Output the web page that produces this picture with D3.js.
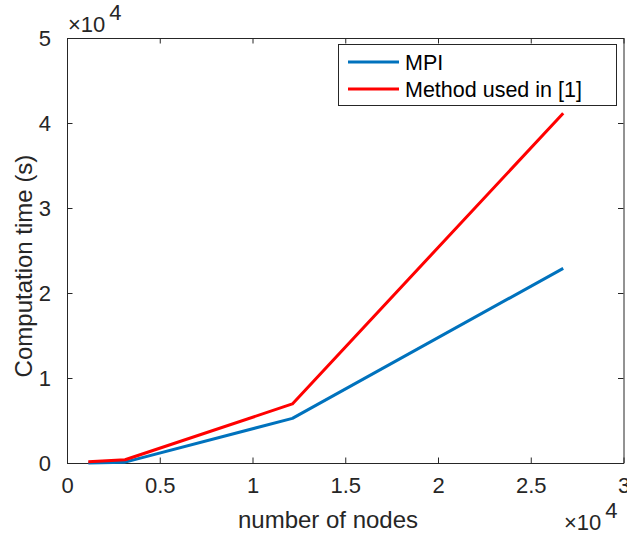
<!DOCTYPE html>
<html>
<head>
<meta charset="utf-8">
<script src="https://cdn.jsdelivr.net/npm/d3@7"></script>
<style>
  html, body { margin: 0; padding: 0; background: #fff; }
  svg { display: block; font-family: "Liberation Sans", Arial, Helvetica, sans-serif; }
</style>
</head>
<body>
<svg id="chart" width="627" height="534"></svg>
<script>
// ---- data ----
const nodes = [1150, 3130, 12150, 26750];
const mpiTime = [0, 100, 5250, 22900];
const method1Time = [150, 380, 6950, 41150];
const seriesNames = ["MPI", "Method used in [1]"];
const seriesColors = ["#0072BD", "#FF0000"];
const xTicks = [0, 5000, 10000, 15000, 20000, 25000, 30000];
const xTickLabels = ["0", "0.5", "1", "1.5", "2", "2.5", "3"];
const yTicks = [0, 10000, 20000, 30000, 40000, 50000];
const yTickLabels = ["0", "1", "2", "3", "4", "5"];

const svg = d3.select("#chart");
const L = 67, R = 623.5, T = 38, B = 463;
const axisColor = "#262626";

const x = d3.scaleLinear().domain([0, 30000]).range([L, R]);
const y = d3.scaleLinear().domain([0, 50000]).range([B, T]);

// axes with inward ticks
const tickLen = 5.5;
const xAxisB = d3.axisBottom(x).tickValues(xTicks).tickFormat((d, i) => xTickLabels[i]).tickSizeInner(-tickLen).tickSizeOuter(0).tickPadding(14);
const xAxisT = d3.axisTop(x).tickValues(xTicks).tickFormat("").tickSizeInner(-tickLen).tickSizeOuter(0);
const yAxisL = d3.axisLeft(y).tickValues(yTicks).tickFormat((d, i) => yTickLabels[i]).tickSizeInner(-tickLen).tickSizeOuter(0).tickPadding(16);
const yAxisR = d3.axisRight(y).tickValues(yTicks).tickFormat("").tickSizeInner(-tickLen).tickSizeOuter(0);

function styleAxis(g) {
  g.select(".domain").attr("stroke", axisColor).attr("stroke-width", 1);
  g.selectAll(".tick line").attr("stroke", axisColor).attr("stroke-width", 1);
  g.selectAll(".tick text").attr("fill", axisColor).style("font-size", "22px").style("font-family", "Liberation Sans, Arial, sans-serif");
}

svg.append("g").attr("transform", `translate(0,${B})`).call(xAxisB).call(styleAxis);
svg.append("g").attr("transform", `translate(0,${T})`).call(xAxisT).call(styleAxis);
svg.append("g").attr("transform", `translate(${L},0)`).call(yAxisL).call(styleAxis);
svg.append("g").attr("transform", `translate(${R},0)`).call(yAxisR).call(styleAxis);

// lines
const series = [mpiTime, method1Time];
const line = d3.line().x((d, i) => x(nodes[i])).y(d => y(d));
series.forEach((s, k) => {
  svg.append("path").datum(s).attr("d", line)
    .attr("fill", "none").attr("stroke", seriesColors[k])
    .attr("stroke-width", 3).attr("stroke-linejoin", "round");
});

// exponent labels
function expLabel(xp, yp) {
  const t = svg.append("text").attr("x", xp).attr("y", yp).attr("fill", axisColor).style("font-size", "22px");
  t.append("tspan").text("\u00d710");
  t.append("tspan").attr("dx", 4).attr("dy", -12).style("font-size", "22px").text("4");
}
expLabel(68, 32);
expLabel(564, 530);

// axis labels
svg.append("text").attr("x", 328).attr("y", 528).attr("text-anchor", "middle")
  .attr("fill", axisColor).style("font-size", "24px").text("number of nodes");
svg.append("text").attr("transform", `translate(32,266) rotate(-90)`).attr("text-anchor", "middle")
  .attr("fill", axisColor).style("font-size", "24px").text("Computation time (s)");

// legend
const lg = svg.append("g");
lg.append("rect").attr("x", 338.5).attr("y", 44.5).attr("width", 278).attr("height", 61)
  .attr("fill", "#fff").attr("stroke", axisColor).attr("stroke-width", 1);
const legY = [62, 89];
seriesNames.forEach((n, k) => {
  lg.append("line").attr("x1", 348).attr("x2", 399).attr("y1", legY[k]).attr("y2", legY[k])
    .attr("stroke", seriesColors[k]).attr("stroke-width", 3);
  lg.append("text").attr("x", 405).attr("y", legY[k] + 8).attr("fill", "#000")
    .style("font-size", "21.5px").text(n);
});
</script>
</body>
</html>
